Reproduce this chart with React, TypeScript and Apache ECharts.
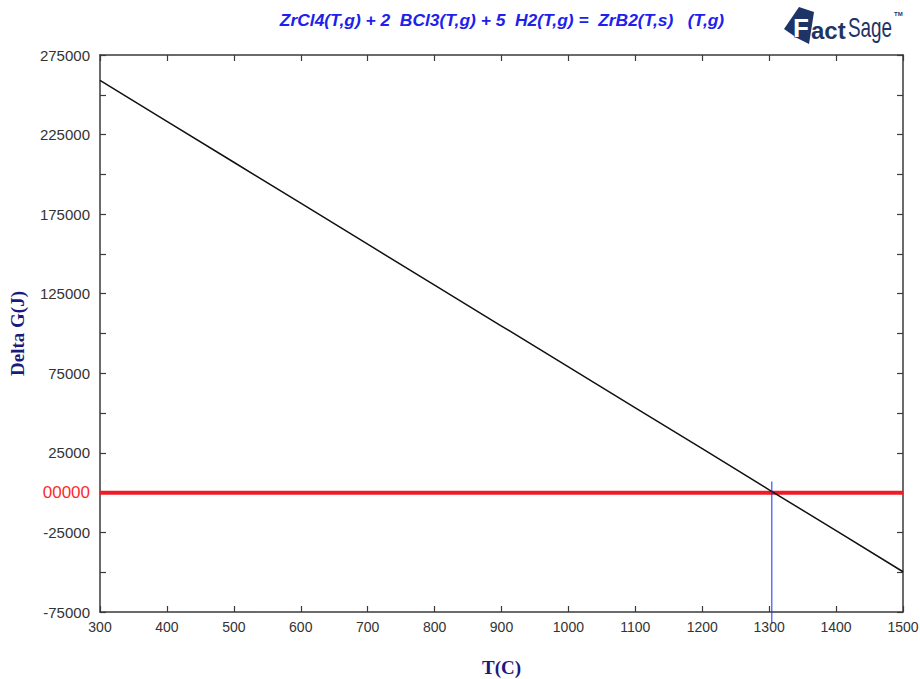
import React, { useEffect, useRef } from "react";
import * as echarts from "echarts";

// Temperature grid (°C) and Gibbs energy change of the reaction (J)
const temperatures = [300, 400, 500, 600, 700, 800, 900, 1000, 1100, 1200, 1300, 1400, 1500];
const deltaG = [259000, 233300, 207600, 181900, 156100, 130400, 104700, 79000, 53300, 27600, 1800, -23900, -49700];

// Reference zero line and the equilibrium temperature marker
const zeroLine = [0, 0];
const equilibriumT = 1304;
const markerSpan = [7000, -82500];

const xRange = [300, 1500];
const yRange = [-75000, 275000];
const xStep = 100;
const yStep = 25000;

const titleText = "ZrCl4(T,g) + 2  BCl3(T,g) + 5  H2(T,g) =  ZrB2(T,s)   (T,g)";
const xName = "T(C)";
const yName = "Delta G(J)";

const axisColor = "#3a3a3a";
const navy = "#1a1a7e";
const logoNavy = "#1f3466";

export default function App() {
  const ref = useRef<HTMLDivElement>(null);

  useEffect(() => {
    if (!ref.current) return;
    const chart = echarts.init(ref.current, null, { renderer: "svg" });

    const yLabel = (v: number) => {
      if (v === 0) return "{zero|00000}";
      return Math.abs(Math.round(v / yStep)) % 2 === 1 ? String(v) : "";
    };

    const baseX = {
      type: "value" as const,
      min: xRange[0],
      max: xRange[1],
      interval: xStep,
      splitLine: { show: false },
      axisLine: { show: true, onZero: false, lineStyle: { color: axisColor, width: 1.5 } },
      axisTick: { show: true, inside: true, length: 6, lineStyle: { color: axisColor, width: 1.2 } },
    };
    const baseY = {
      type: "value" as const,
      min: yRange[0],
      max: yRange[1],
      interval: yStep,
      splitLine: { show: false },
      axisLine: { show: true, onZero: false, lineStyle: { color: axisColor, width: 1.5 } },
      axisTick: { show: true, inside: true, length: 6, lineStyle: { color: axisColor, width: 1.2 } },
    };

    chart.setOption({
      animation: false,
      backgroundColor: "#ffffff",
      grid: { left: 100, right: 17, top: 55, bottom: 67, containLabel: false, outerBoundsMode: "none" },
      xAxis: [
        {
          ...baseX,
          position: "bottom",
          name: xName,
          nameLocation: "middle",
          nameGap: 46,
          nameTextStyle: { fontFamily: "Liberation Serif, serif", fontWeight: "bold", fontSize: 19, color: navy },
          axisLabel: {
            margin: 8,
            formatter: (v: number) => String(v),
            fontFamily: "Liberation Sans, Arial, sans-serif",
            fontSize: 14,
            color: "#333",
          },
        },
        { ...baseX, position: "top", axisLabel: { show: false } },
      ],
      yAxis: [
        {
          ...baseY,
          position: "left",
          name: yName,
          nameLocation: "middle",
          nameRotate: 90,
          nameGap: 73,
          nameTextStyle: { fontFamily: "Liberation Serif, serif", fontWeight: "bold", fontSize: 19, color: navy },
          axisLabel: {
            margin: 10,
            formatter: yLabel,
            fontFamily: "Liberation Sans, Arial, sans-serif",
            fontSize: 15,
            color: "#333",
            rich: {
              zero: { fontFamily: "Liberation Sans, Arial, sans-serif", fontSize: 17, color: "#ff2a2a" },
            },
          },
        },
        { ...baseY, position: "right", axisLabel: { show: false } },
      ],
      graphic: [
        {
          type: "text",
          x: 502,
          y: 20,
          style: {
            text: titleText,
            fontFamily: "Liberation Sans, Arial, sans-serif",
            fontStyle: "italic",
            fontWeight: "bold",
            fontSize: 17.4,
            fill: "#2020ee",
            align: "center",
            verticalAlign: "middle",
          },
        },
        // FactSage logo
        {
          type: "polygon",
          shape: { points: [[784, 29], [799, 7], [814, 12], [809, 44], [797, 38]] },
          style: { fill: logoNavy },
        },
        {
          type: "text",
          x: 793,
          y: 28,
          style: {
            text: "F",
            fontFamily: "Liberation Sans, Arial, sans-serif",
            fontWeight: "bold",
            fontSize: 26,
            fill: "#ffffff",
            stroke: logoNavy,
            lineWidth: 1,
            verticalAlign: "middle",
          },
        },
        {
          type: "text",
          x: 811,
          y: 30,
          style: {
            text: "act",
            fontFamily: "Liberation Sans, Arial, sans-serif",
            fontWeight: "bold",
            fontSize: 24,
            fill: logoNavy,
            verticalAlign: "middle",
          },
        },
        {
          type: "text",
          x: 848,
          y: 28,
          scaleX: 0.7,
          style: {
            text: "Sage",
            fontFamily: "Liberation Sans, Arial, sans-serif",
            fontSize: 27,
            fill: logoNavy,
            verticalAlign: "middle",
          },
        },
        {
          type: "text",
          x: 894,
          y: 14,
          style: {
            text: "TM",
            fontFamily: "Liberation Sans, Arial, sans-serif",
            fontWeight: "bold",
            fontSize: 6,
            fill: logoNavy,
            verticalAlign: "middle",
          },
        },
      ],
      series: [
        {
          name: "zero",
          type: "line",
          data: xRange.map((x, i) => [x, zeroLine[i]]),
          symbol: "none",
          lineStyle: { color: "#ee1c24", width: 4 },
          z: 2,
        },
        {
          name: "deltaG",
          type: "line",
          data: temperatures.map((t, i) => [t, deltaG[i]]),
          symbol: "none",
          lineStyle: { color: "#111111", width: 1.5 },
          z: 3,
        },
        {
          name: "equilibrium",
          type: "line",
          data: markerSpan.map((v) => [equilibriumT, v]),
          symbol: "none",
          clip: false,
          lineStyle: { color: "#1030ff", width: 1 },
          z: 4,
        },
      ],
    });

    return () => chart.dispose();
  }, []);

  return <div ref={ref} style={{ width: 920, height: 679, position: "absolute", left: 0, top: 0 }} />;
}
